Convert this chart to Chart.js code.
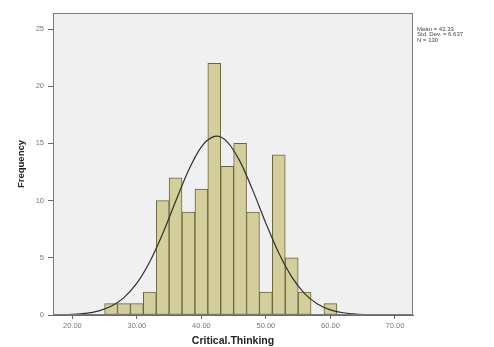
<!DOCTYPE html>
<html>
<head>
<meta charset="utf-8">
<script src="https://cdn.jsdelivr.net/npm/chart.js@4/dist/chart.umd.min.js"></script>
<style>
  html, body { margin: 0; padding: 0; background: #ffffff; }
  #wrap { width: 494px; height: 347px; position: relative; }
</style>
</head>
<body>
<div id="wrap"><canvas id="c" width="494" height="347"></canvas></div>
<script>
// Histogram bins of Critical.Thinking (bin width 2, centres at even values)
const binCenters = [26, 28, 30, 32, 34, 36, 38, 40, 42, 44, 46, 48, 50, 52, 54, 56, 58, 60];
const frequencies = [1, 1, 1, 2, 10, 12, 9, 11, 22, 13, 15, 9, 2, 14, 5, 2, 0, 1];

// Fitted normal curve (Mean = 42.33, Std. Dev. = 6.637, N = 130), heights in frequency units
const curveX = [17, 18, 20, 22, 24, 26, 28, 30, 32, 34, 36, 38, 40, 42, 42.33, 44, 46, 48, 50, 52, 54, 56, 58, 60, 62, 64, 66, 68, 70, 72.8];
const curveY = [0.010, 0.019, 0.055, 0.143, 0.345, 0.757, 1.52, 2.78, 4.66, 7.11, 9.92, 12.63, 14.70, 15.61, 15.63, 15.14, 13.41, 10.85, 8.01, 5.41, 3.33, 1.87, 0.963, 0.451, 0.194, 0.076, 0.027, 0.009, 0.003, 0.0005];

const xTicks = [20, 30, 40, 50, 60, 70];
const yTicks = [0, 5, 10, 15, 20, 25];
const statsLines = ['Mean = 42.33', 'Std. Dev. = 6.637', 'N = 130'];

const fontFamily = '"Liberation Sans", Arial, sans-serif';

const panel = {
  id: 'panel',
  beforeDatasetsDraw(chart) {
    const { ctx, chartArea: a } = chart;
    ctx.save();
    ctx.fillStyle = '#f0f0f0';
    ctx.fillRect(a.left, a.top, a.right - a.left, a.bottom - a.top);
    ctx.restore();
  },
  afterDraw(chart) {
    const { ctx, chartArea: a } = chart;
    ctx.save();
    ctx.strokeStyle = '#7a7a7a';
    ctx.lineWidth = 1;
    ctx.strokeRect(Math.round(a.left) + 0.5, Math.round(a.top) + 0.5,
                   Math.round(a.right - a.left) - 1, Math.round(a.bottom - a.top) - 1);
    // statistics box text to the right of the plot
    ctx.fillStyle = '#444';
    ctx.font = '6px ' + fontFamily;
    ctx.textBaseline = 'middle';
    statsLines.forEach((t, i) => ctx.fillText(t, a.right + 4, 29 + i * 5.5));
    ctx.restore();
  }
};

const pairs = (xs, ys) => xs.map((x, i) => ({ x: x, y: ys[i] }));

new Chart(document.getElementById('c'), {
  type: 'bar',
  data: {
    datasets: [
      {
        type: 'line',
        data: pairs(curveX, curveY),
        borderColor: '#303030',
        borderWidth: 1.2,
        pointRadius: 0,
        cubicInterpolationMode: 'monotone',
        fill: false,
        order: 0
      },
      {
        type: 'bar',
        data: pairs(binCenters, frequencies),
        backgroundColor: '#d3ce9b',
        borderColor: '#6a663a',
        borderWidth: 1,
        borderSkipped: false,
        barPercentage: 1,
        categoryPercentage: 1,
        order: 1
      }
    ]
  },
  options: {
    responsive: false,
    animation: false,
    devicePixelRatio: 1,
    layout: { padding: { left: 0, right: 81, top: 13, bottom: 0 } },
    plugins: { legend: { display: false }, tooltip: { enabled: false } },
    scales: {
      x: {
        type: 'linear',
        min: 17,
        max: 72.8,
        offset: false,
        afterFit(s) { s.height = 32; },
        afterBuildTicks(s) { s.ticks = xTicks.map(v => ({ value: v })); },
        grid: { display: true, drawOnChartArea: false, drawTicks: true, tickLength: 4, color: '#6a6a6a', offset: false },
        border: { display: true, color: '#6a6a6a' },
        ticks: {
          font: { family: fontFamily, size: 7.5 },
          color: '#777',
          padding: 2,
          maxRotation: 0,
          callback: v => Number(v).toFixed(2)
        },
        title: {
          display: true,
          text: 'Critical.Thinking',
          font: { family: fontFamily, size: 10.5, weight: 'bold' },
          color: '#222',
          padding: { top: 0, bottom: 0 }
        }
      },
      y: {
        min: 0,
        max: 26.4,
        afterFit(s) { s.width = 53; },
        afterBuildTicks(s) { s.ticks = yTicks.map(v => ({ value: v })); },
        grid: { display: true, drawOnChartArea: false, drawTicks: true, tickLength: 5, color: '#6a6a6a' },
        border: { display: true, color: '#6a6a6a' },
        ticks: {
          font: { family: fontFamily, size: 7.5 },
          color: '#777',
          padding: 4
        },
        title: {
          display: true,
          text: 'Frequency',
          font: { family: fontFamily, size: 9.5, weight: 'bold' },
          color: '#222',
          padding: { top: 16, bottom: 0 }
        }
      }
    }
  },
  plugins: [panel]
});
</script>
</body>
</html>
